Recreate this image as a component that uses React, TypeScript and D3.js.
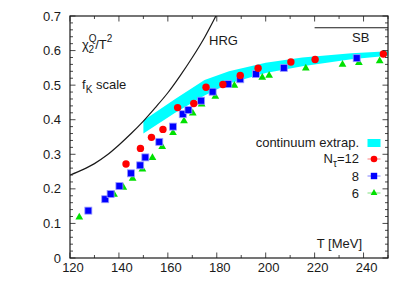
import React from 'react';
import * as d3 from 'd3';

const width = 409;
const height = 286;
const margin = {top: 16, right: 21, bottom: 28, left: 70};
const red = '#ff0000';
const blue = '#0000ff';
const green = '#00e000';
const cyan = '#00ffff';
const ink = '#1a1a1a';
const font = '"Liberation Sans", Arial, sans-serif';

// HRG curve
const hrgT = [120, 125, 130, 135, 140, 145, 150, 155, 160, 165, 170, 175, 180];
const hrgV = [0.240, 0.255, 0.273, 0.297, 0.327, 0.360, 0.396, 0.436, 0.478, 0.527, 0.580, 0.638, 0.705];

// Stefan-Boltzmann limit
const sbT = [220, 250];
const sbV = [0.666, 0.666];

// continuum extrapolation band
const bandT = [150, 163, 175, 185, 200, 215, 235, 250];
const bandLo = [0.360, 0.420, 0.470, 0.505, 0.535, 0.555, 0.575, 0.585];
const bandHi = [0.398, 0.460, 0.515, 0.540, 0.565, 0.580, 0.592, 0.598];

// N_tau = 12
const nt12T = [142.9, 148.8, 153.3, 158.0, 164.0, 170.6, 175.6, 182.5, 189.6, 196.9, 210.3, 220.2, 248.1];
const nt12V = [0.272, 0.317, 0.349, 0.372, 0.435, 0.447, 0.494, 0.502, 0.528, 0.549, 0.567, 0.574, 0.590];

// N_tau = 8
const nt8T = [127.5, 134.4, 136.6, 140.2, 144.9, 148.7, 150.8, 156.5, 162.1, 166.1, 168.4, 173.6, 178.3, 184.7, 189.6, 196.0, 207.4, 237.2];
const nt8V = [0.137, 0.170, 0.185, 0.208, 0.245, 0.268, 0.291, 0.336, 0.380, 0.416, 0.428, 0.455, 0.481, 0.503, 0.517, 0.532, 0.550, 0.578];

// N_tau = 6
const nt6T = [123.8, 138.0, 141.8, 145.6, 149.6, 153.7, 157.7, 162.1, 166.6, 170.2, 173.8, 179.4, 187.2, 198.6, 201.4, 216.4, 231.4, 238.1, 246.6];
const nt6V = [0.118, 0.184, 0.204, 0.230, 0.257, 0.290, 0.322, 0.362, 0.396, 0.419, 0.445, 0.467, 0.499, 0.522, 0.528, 0.549, 0.560, 0.565, 0.570];

const xTicks = [120, 140, 160, 180, 200, 220, 240];
const yTicks = [0, 0.1, 0.2, 0.3, 0.4, 0.5, 0.6, 0.7];

const xScale = d3.scaleLinear().domain([120, 250]).range([margin.left, width - margin.right]);
const yScale = d3.scaleLinear().domain([0, 0.7]).range([height - margin.bottom, margin.top]);

function zip(xs: number[], ys: number[]): [number, number][] {
    return xs.map((x, i) => [x, ys[i]]);
}

const App = () => {
    const x0 = xScale.range()[0], x1 = xScale.range()[1];
    const y0 = yScale.range()[0], y1 = yScale.range()[1];

    const line = d3.line<[number, number]>()
        .x(d => xScale(d[0]))
        .y(d => yScale(d[1]));
    const hrgPath = d3.line<[number, number]>()
        .x(d => xScale(d[0]))
        .y(d => yScale(d[1]))
        .curve(d3.curveMonotoneX)(zip(hrgT, hrgV));
    const bandPath = d3.area<number>()
        .x(d => xScale(bandT[d]))
        .y0(d => yScale(bandLo[d]))
        .y1(d => yScale(bandHi[d]))(bandT.map((_, i) => i));

    const tri = d3.symbol(d3.symbolTriangle, 26)();
    const triSmall = d3.symbol(d3.symbolTriangle, 20)();

    // minor ticks
    const xMinor = d3.range(120, 251, 10);
    const yMinor = d3.range(0, 0.701, 0.02);

    const legendX = 374;
    const legendText = 359;

    return (
        <div style={{position: 'absolute', left: 0, top: 0}}>
            <svg width={width} height={height} style={{display: 'block', fontFamily: font}}>
                <defs>
                    <clipPath id="plot">
                        <rect x={x0} y={y1} width={x1 - x0} height={y0 - y1}/>
                    </clipPath>
                </defs>
                <rect width={width} height={height} fill="#fff"/>

                <path d={bandPath || ''} fill={cyan}/>
                <g clipPath="url(#plot)">
                    <path d={hrgPath || ''} fill="none" stroke={ink} strokeWidth={1.2}/>
                </g>
                <path d={line(zip(sbT, sbV)) || ''} fill="none" stroke={ink} strokeWidth={1.2}/>

                {/* data */}
                {nt6T.map((t, i) => (
                    <path key={'g' + i} d={tri || ''} fill={green}
                          transform={`translate(${xScale(t)},${yScale(nt6V[i])})`}/>
                ))}
                {nt8T.map((t, i) => (
                    <rect key={'b' + i} x={xScale(t) - 3.5} y={yScale(nt8V[i]) - 3.5} width={7} height={7}
                          fill={blue} stroke="#9a9aff" strokeWidth={0.8}/>
                ))}
                {nt12T.map((t, i) => (
                    <circle key={'r' + i} cx={xScale(t)} cy={yScale(nt12V[i])} r={3.7} fill={red}/>
                ))}

                {/* frame and ticks */}
                <rect x={x0} y={y1} width={x1 - x0} height={y0 - y1} fill="none" stroke={ink} strokeWidth={1.2}/>
                {xMinor.map(t => {
                    const len = t % 20 === 0 ? 5.5 : 3;
                    const x = xScale(t);
                    return (
                        <g key={'xt' + t} stroke={ink} strokeWidth={0.8}>
                            <line x1={x} x2={x} y1={y0} y2={y0 - len}/>
                            <line x1={x} x2={x} y1={y1} y2={y1 + len}/>
                        </g>
                    );
                })}
                {yMinor.map((v, i) => {
                    const len = i % 5 === 0 ? 5.5 : 3;
                    const y = yScale(v);
                    return (
                        <g key={'yt' + i} stroke={ink} strokeWidth={0.8}>
                            <line x1={x0} x2={x0 + len} y1={y} y2={y}/>
                            <line x1={x1} x2={x1 - len} y1={y} y2={y}/>
                        </g>
                    );
                })}
                {xTicks.map(t => (
                    <text key={'xl' + t} x={xScale(t) + 3} y={272} textAnchor="middle" fontSize={13} fill={ink}>{t}</text>
                ))}
                {yTicks.map(v => (
                    <text key={'yl' + v} x={61} y={yScale(v) + 4.5} textAnchor="end" fontSize={13} fill={ink}>
                        {v === 0 ? '0' : v.toFixed(1)}
                    </text>
                ))}

                {/* labels */}
                <text x={82} y={49} fontSize={13} fill={ink}>
                    χ
                    <tspan fontSize={10} dy={-7} dx={0}>Q</tspan>
                    <tspan fontSize={10} dy={11} dx={-8}>2</tspan>
                    <tspan dy={-4} dx={1}>/T</tspan>
                    <tspan fontSize={10} dy={-7}>2</tspan>
                </text>
                <text x={82} y={89} fontSize={13} fill={ink}>
                    f<tspan fontSize={10} dy={4}>K</tspan><tspan dy={-4}> scale</tspan>
                </text>
                <text x={209} y={45} fontSize={13} fill={ink}>HRG</text>
                <text x={352} y={42} fontSize={13} fill={ink}>SB</text>
                <text x={362} y={248} textAnchor="end" fontSize={13} fill={ink}>T [MeV]</text>

                {/* legend */}
                <text x={legendText} y={147} textAnchor="end" fontSize={13} fill={ink}>continuum extrap.</text>
                <rect x={legendX - 6.5} y={139} width={13} height={8} fill={cyan}/>

                <text x={legendText} y={163} textAnchor="end" fontSize={13} fill={ink}>
                    N<tspan fontSize={10} dy={4}>τ</tspan><tspan dy={-4}>=12</tspan>
                </text>
                <line x1={legendX - 6.5} x2={legendX + 6.5} y1={159} y2={159} stroke="#ff8080"/>
                <circle cx={legendX} cy={159} r={3.3} fill={red}/>

                <text x={legendText} y={180.5} textAnchor="end" fontSize={13} fill={ink}>8</text>
                <line x1={legendX - 6.5} x2={legendX + 6.5} y1={176} y2={176} stroke="#8080ff"/>
                <rect x={legendX - 3.2} y={172.8} width={6.4} height={6.4} fill={blue}/>

                <text x={legendText} y={198} textAnchor="end" fontSize={13} fill={ink}>6</text>
                <line x1={legendX - 6.5} x2={legendX + 6.5} y1={193} y2={193} stroke="#80e080"/>
                <path d={triSmall || ''} fill={green} transform={`translate(${legendX},${193})`}/>
            </svg>
        </div>
    );
};

export default App;
